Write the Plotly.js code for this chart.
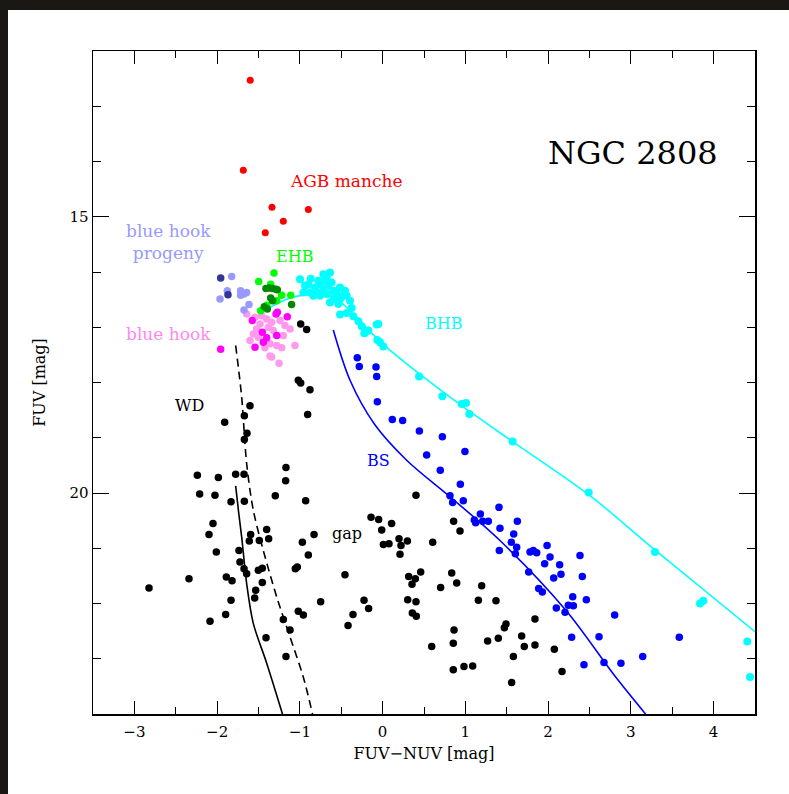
<!DOCTYPE html>
<html>
<head>
<meta charset="utf-8">
<script src="https://cdn.plot.ly/plotly-3.0.1.min.js"></script>
<style>html,body{margin:0;padding:0;background:#1b1714;}#chart{width:789px;height:794px;}</style>
</head>
<body>
<div id="chart"></div>
<script>
// ---- data (FUV-NUV colour, FUV magnitude) ----
const agbX = [-1.60, -1.684, -1.337, -0.898, -1.20, -1.418];
const agbY = [12.53, 14.16, 14.83, 14.87, 15.08, 15.29];

const progenyDarkX = [-1.957, -1.869];
const progenyDarkY = [16.11, 16.41];
const progenyX = [-1.824, -1.965, -1.877, -1.716, -1.675, -1.716, -1.643, -1.615, -1.675];
const progenyY = [16.08, 16.49, 16.34, 16.34, 16.40, 16.42, 16.37, 16.59, 16.69];

const ehbX = [-1.313, -1.498, -1.22, -1.111, -1.474, -1.353, -1.28, -1.40];
const ehbY = [16.02, 16.17, 16.42, 16.42, 16.70, 16.22, 16.52, 16.60];
const ehbDarkX = [-1.41, -1.37, -1.33, -1.29, -1.273, -1.353, -1.329, -1.43, -1.393, -1.10];
const ehbDarkY = [16.30, 16.29, 16.30, 16.31, 16.32, 16.47, 16.52, 16.63, 16.67, 16.59];

const hookLightX = [-1.643, -1.542, -1.462, -1.401, -1.482, -1.341, -1.24, -1.18, -1.522, -1.381, -1.321, -1.562, -1.2, -1.502, -1.603, -1.361, -1.422, -1.28, -1.22, -1.059, -1.341, -1.252, -1.119, -1.361];
const hookLightY = [16.76, 16.82, 16.79, 16.85, 16.94, 16.91, 16.88, 16.97, 17.03, 17.00, 17.06, 17.12, 17.15, 17.18, 17.24, 17.30, 17.37, 17.33, 17.37, 17.33, 17.54, 17.65, 17.03, 17.52];
const hookX = [-1.272, -1.288, -1.152, -1.575, -1.454, -1.28, -1.401, -1.442, -1.542, -1.957];
const hookY = [16.73, 16.76, 16.81, 16.88, 17.09, 17.15, 17.19, 17.27, 17.36, 17.40];

const bhbX = [-0.998, -0.869, -0.716, -0.676, -0.616, -0.756, -0.817, -0.877, -0.837, -0.756, -0.676, -0.595, -0.515, -0.454, -0.434, -0.515, -0.595, -0.636, -0.535, -0.515, -0.434, -0.374, -0.354, -0.293, -0.253, -0.192, -0.213, -0.072, -0.938, -0.958, -0.716, -0.555, -0.777, -0.656, -0.897, -0.394, -0.636, -0.474, -0.797, -0.696,
  -0.052, -0.221, -0.173, -0.064, 0.008, -0.032, 0.44, 0.722, 0.955, 1.008, 1.048, 1.571, 2.49, 3.291, 3.835, 3.876, 4.407, 4.44];
const bhbY = [16.13, 16.12, 16.04, 16.10, 16.19, 16.22, 16.28, 16.37, 16.43, 16.43, 16.40, 16.34, 16.28, 16.34, 16.43, 16.49, 16.49, 16.55, 16.58, 16.77, 16.74, 16.65, 16.80, 16.89, 16.98, 17.07, 17.10, 16.95, 16.25, 16.37, 16.31, 16.40, 16.16, 16.25, 16.22, 16.52, 16.01, 16.43, 16.37, 16.16,
  16.94, 17.11, 17.06, 17.23, 17.35, 17.27, 17.89, 18.25, 18.39, 18.37, 18.57, 19.07, 19.99, 21.07, 22.00, 21.95, 22.69, 23.33];

const bsX = [-0.306, -0.282, -0.08, -0.072, -0.064, 0.117, 0.242, 0.444, 0.722, 0.532, 0.995, 0.697, 0.939, 0.814, 0.846, 0.975, 1.406, 1.181, 1.108, 1.124, 1.209, 1.277, 1.628, 1.418, 1.584, 1.555, 1.62, 1.604, 1.41, 1.781, 1.821, 1.862, 1.987, 2.023, 2.385, 1.958, 2.139, 1.765, 2.155, 2.067, 2.413, 1.886, 1.93, 2.297, 2.244, 2.305, 2.462, 2.099, 2.204, 2.804, 2.284, 2.615, 3.585, 2.433, 2.675, 2.88, 3.143];
const bsY = [17.55, 17.71, 17.72, 17.89, 18.35, 18.67, 18.69, 18.88, 18.98, 19.31, 19.25, 19.59, 19.84, 20.05, 20.17, 20.14, 20.26, 20.38, 20.49, 20.54, 20.51, 20.51, 20.51, 20.64, 20.74, 20.89, 20.98, 21.10, 21.04, 21.07, 21.04, 21.08, 20.95, 21.16, 21.13, 21.28, 21.30, 21.43, 21.47, 21.54, 21.51, 21.73, 21.79, 21.88, 22.03, 22.04, 21.93, 22.08, 22.16, 22.21, 22.61, 22.60, 22.61, 23.11, 23.07, 23.08, 22.96];

const otherX = [-1.019, -0.99, -0.878, -1.603, -0.906, -1.671, -1.909, -1.639, -1.671, -1.168, -2.239, -1.985, -1.776, -1.675, -1.172, -2.211, -2.026, -1.297, -1.832, -1.671, -0.93, -0.14, -0.048, 0.109, -0.011, -2.05, -2.098, -1.401, -1.377, -1.595, -1.611, -1.49, -0.829, -0.97, 0.009, 0.077, 0.198, 0.299, 0.222, 0.21, -2.01, -1.736, -1.724, -0.898, -1.675, -1.643, -1.502, -1.454, -1.055, -1.031, -2.34, -2.823, -1.889, -1.82, -1.454, -1.534, -1.546, -1.832, -1.897, -2.086, -0.749, -0.455, 0.315, 0.395, 0.355, -0.225, -0.169, -0.358, -0.418, 0.303, 0.403, 0.359, 0.407, -1.019, -0.958, -1.2, -1.119, -1.409, -1.168, 0.403, -0.99, -0.918,
  0.605, 0.858, 0.935, 0.46, 0.835, 0.895, 0.701, 1.197, 1.157, 1.37, 1.841, 1.491, 1.471, 0.863, 0.593, 0.854, 1.269, 1.398, 1.68, 1.712, 1.841, 2.075, 1.58, 0.854, 0.983, 1.088, 2.168, 1.559];
const otherY = [17.96, 18.01, 18.13, 18.42, 18.58, 18.60, 18.72, 18.92, 19.03, 19.54, 19.68, 19.72, 19.66, 19.66, 19.78, 20.02, 20.04, 20.05, 20.16, 20.15, 20.14, 20.44, 20.48, 20.55, 20.67, 20.55, 20.75, 20.66, 20.83, 20.75, 20.87, 20.86, 20.75, 20.89, 20.93, 20.92, 20.83, 20.87, 20.95, 21.11, 21.07, 21.04, 21.25, 21.12, 21.37, 21.46, 21.40, 21.36, 21.37, 21.34, 21.55, 21.72, 21.52, 21.59, 21.62, 21.76, 21.90, 21.94, 22.20, 22.32, 21.97, 21.48, 21.51, 21.55, 21.65, 21.94, 22.09, 22.20, 22.40, 21.93, 21.97, 22.17, 22.23, 22.14, 22.21, 22.29, 22.48, 22.62, 22.96, 20.04, 16.94, 17.04,
  20.89, 20.51, 20.69, 21.43, 21.45, 21.63, 21.71, 21.68, 21.94, 21.95, 22.28, 22.37, 22.44, 22.48, 22.78, 22.72, 22.68, 22.63, 22.59, 22.78, 22.75, 22.83, 22.96, 23.20, 23.14, 23.13, 23.23, 23.43];

// model sequences
const zahbX = [-1.44, -1.12, -0.88, -0.72, -0.58, -0.45, -0.3, -0.15, 0.0, 0.45, 1.0, 1.58, 2.49, 3.29, 4.5];
const zahbY = [16.70, 16.47, 16.40, 16.37, 16.45, 16.62, 16.84, 17.08, 17.30, 17.85, 18.47, 19.08, 20.03, 21.03, 22.51];
const bsModelX = [-0.596, -0.394, -0.1, 0.3, 0.8, 1.418, 2.224, 2.8, 3.177];
const bsModelY = [17.05, 17.96, 18.75, 19.42, 20.05, 20.86, 22.14, 23.3, 24.0];
const wdSolidX = [-1.776, -1.74, -1.703, -1.643, -1.563, -1.401, -1.21];
const wdSolidY = [19.87, 20.35, 20.80, 21.64, 22.36, 23.08, 24.0];
const wdDashX = [-1.776, -1.703, -1.643, -1.563, -1.442, -1.28, -1.12, -0.959, -0.847];
const wdDashY = [17.33, 18.27, 19.47, 20.31, 21.04, 21.88, 22.60, 23.33, 24.0];

// ---- traces ----
function pts(x, y, color, size) {
  return {x: x, y: y, type: 'scatter', mode: 'markers', hoverinfo: 'skip',
          marker: {color: color, size: size || 7.5, line: {width: 0}}};
}
function line(x, y, color, dash) {
  return {x: x, y: y, type: 'scatter', mode: 'lines', hoverinfo: 'skip',
          line: {color: color, width: 1.6, dash: dash || 'solid', shape: 'spline', smoothing: 0.9}};
}
const data = [
  line(wdSolidX, wdSolidY, '#000000'),
  line(wdDashX, wdDashY, '#000000', '8px,5px'),
  line(bsModelX, bsModelY, '#0000ff'),
  pts(otherX, otherY, '#000000'),
  pts(bsX, bsY, '#0000ff'),
  pts(agbX, agbY, '#ff0000', 7),
  pts(hookLightX, hookLightY, '#ff99ee'),
  pts(hookX, hookY, '#ff00ff'),
  pts(progenyX, progenyY, '#9999ff'),
  pts(progenyDarkX, progenyDarkY, '#333399'),
  pts(bhbX, bhbY, '#00ffff', 8),
  line(zahbX, zahbY, '#00ffff'),
  pts(ehbX, ehbY, '#00ff00'),
  pts(ehbDarkX, ehbDarkY, '#008800')
];

const serif = 'DejaVu Serif, Liberation Serif, serif';
function lab(text, x, y, color, size) {
  return {text: text, x: x, y: y, xref: 'x', yref: 'y', showarrow: false,
          font: {family: serif, size: size || 16, color: color}};
}

const layout = {
  width: 789, height: 794,
  margin: {l: 93, r: 34, t: 51, b: 80, pad: 0},
  paper_bgcolor: '#1b1714',
  plot_bgcolor: '#ffffff',
  showlegend: false,
  shapes: [{type: 'rect', xref: 'paper', yref: 'paper', x0: -0.1284, x1: 1.06, y0: -0.13, y1: 1.0618,
            fillcolor: '#ffffff', line: {width: 0}, layer: 'below'}],
  xaxis: {
    range: [-3.5, 4.5], tick0: 0, dtick: 1, ticks: 'inside', ticklen: 13, tickwidth: 1, tickcolor: '#000',
    showline: true, linecolor: '#000', linewidth: 1.5, mirror: 'ticks', showgrid: false, zeroline: false,
    minor: {tick0: 0, dtick: 0.5, ticks: 'inside', ticklen: 7, tickwidth: 1, tickcolor: '#000', showgrid: false},
    tickfont: {family: serif, size: 15, color: '#000'}, ticklabelstandoff: 3,
    title: {text: 'FUV−NUV [mag]', font: {family: serif, size: 16, color: '#000'}, standoff: 8}
  },
  yaxis: {
    range: [24, 12], tick0: 0, dtick: 5, ticks: 'inside', ticklen: 16, tickwidth: 1, tickcolor: '#000',
    showline: true, linecolor: '#000', linewidth: 1.5, mirror: 'ticks', showgrid: false, zeroline: false,
    minor: {tick0: 0, dtick: 1, ticks: 'inside', ticklen: 8, tickwidth: 1, tickcolor: '#000', showgrid: false},
    tickfont: {family: serif, size: 15, color: '#000'}, ticklabelstandoff: 0,
    title: {text: 'FUV [mag]', font: {family: serif, size: 16, color: '#000'}, standoff: 20}
  },
  annotations: [
    lab('NGC 2808', 3.03, 13.85, '#000000', 32),
    lab('AGB manche', -0.44, 14.35, '#ff0000', 17),
    lab('blue hook<br>progeny', -2.59, 15.45, '#9999ff', 17),
    lab('EHB', -1.06, 15.72, '#00ff00', 16),
    lab('BHB', 0.74, 16.93, '#00ffff', 16),
    lab('blue hook', -2.59, 17.13, '#ff88ee', 17),
    lab('WD', -2.33, 18.42, '#000000', 16),
    lab('BS', -0.05, 19.42, '#0000ff', 16),
    lab('gap', -0.43, 20.73, '#000000', 16)
  ]
};

Plotly.newPlot('chart', data, layout, {staticPlot: true});
</script>
</body>
</html>
